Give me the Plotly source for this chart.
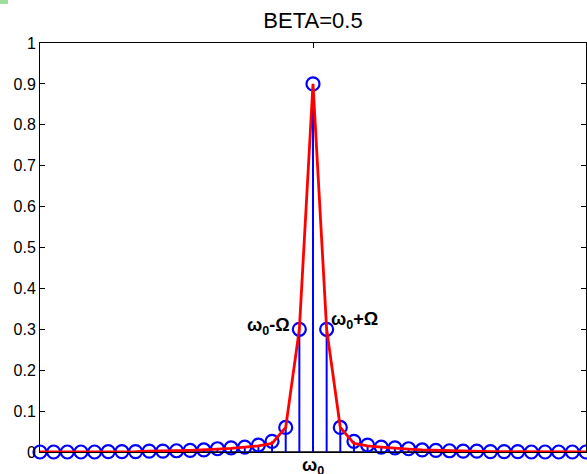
import plotly.graph_objects as go

# Harmonic index relative to carrier (omega_0)
n = list(range(-20, 21))

# Stem (marker) amplitudes, from n=0 to n=20 (mirrored)
amp_right = [0.9, 0.3, 0.06, 0.026, 0.017, 0.012, 0.010, 0.008, 0.005, 0.004,
             0.003, 0.002, 0.002, 0.001, 0.001, 0.001, 0.0, 0.0, 0.0, 0.0, 0.0]
amps = amp_right[:0:-1] + amp_right

# Red envelope curve values
env_right = [0.9, 0.3, 0.06, 0.021, 0.015, 0.012, 0.009, 0.007, 0.005, 0.004,
             0.003, 0.002, 0.002, 0.001, 0.001, 0.001, 0.0, 0.0, 0.0, 0.0, 0.0]
env = env_right[:0:-1] + env_right

y_ticks = [0, 0.1, 0.2, 0.3, 0.4, 0.5, 0.6, 0.7, 0.8, 0.9, 1]
y_tick_text = ["0", "0.1", "0.2", "0.3", "0.4", "0.5", "0.6", "0.7", "0.8", "0.9", "1"]

BLUE = "rgb(0,0,255)"
RED = "rgb(255,0,0)"
FONT = "Liberation Sans, Arial, sans-serif"

stem_x, stem_y = [], []
for xi, yi in zip(n, amps):
    stem_x += [xi, xi, None]
    stem_y += [0, yi, None]

fig = go.Figure()
# baseline
fig.add_trace(go.Scatter(x=[n[0], n[-1]], y=[0, 0], mode="lines",
                         line=dict(color="black", width=1.5),
                         hoverinfo="skip", showlegend=False, cliponaxis=False))
fig.add_trace(go.Scatter(x=stem_x, y=stem_y, mode="lines",
                         line=dict(color=BLUE, width=2),
                         hoverinfo="skip", showlegend=False, cliponaxis=False))
fig.add_trace(go.Scatter(x=n, y=amps, mode="markers",
                         marker=dict(symbol="circle-open", size=13, color=BLUE,
                                     line=dict(color=BLUE, width=2.2)),
                         showlegend=False, cliponaxis=False))
fig.add_trace(go.Scatter(x=n, y=env, mode="lines",
                         line=dict(color=RED, width=2.8),
                         showlegend=False, cliponaxis=False))

fig.add_annotation(x=-1, y=0.3, text="<b>ω<sub>0</sub>-Ω</b>", showarrow=False,
                   xanchor="right", yanchor="middle", xshift=-7, yshift=3,
                   font=dict(family=FONT, size=18, color="black"))
fig.add_annotation(x=1, y=0.3, text="<b>ω<sub>0</sub>+Ω</b>", showarrow=False,
                   xanchor="left", yanchor="middle", xshift=2, yshift=9,
                   font=dict(family=FONT, size=18, color="black"))
# carrier label under the axis
fig.add_annotation(x=0, y=0, text="<b>ω<sub>0</sub></b>", showarrow=False,
                   xanchor="center", yanchor="top", yshift=-1,
                   font=dict(family=FONT, size=18, color="black"))

fig.add_shape(type="rect", xref="paper", yref="paper", x0=-40/546, x1=-32/546,
              y0=1 + 39/409, y1=1 + 43/409, fillcolor="rgb(160,220,160)", line_width=0)

fig.update_layout(
    width=587, height=474,
    margin=dict(l=40, r=1, t=43, b=22, autoexpand=False),
    paper_bgcolor="white", plot_bgcolor="white",
    title=dict(text="BETA=0.5", x=313/587, xanchor="center", y=1 - 20/474, yanchor="middle",
               font=dict(family=FONT, size=22, color="black")),
    font=dict(family=FONT, size=16, color="black"),
    showlegend=False,
)
fig.update_xaxes(range=[-20, 20], tickvals=[0], ticktext=[""],
                 ticks="inside", ticklen=5, tickcolor="black", automargin=False,
                 showline=True, linecolor="black", linewidth=1, mirror="ticks",
                 showgrid=False, zeroline=False)
fig.update_yaxes(range=[0, 1], tickvals=y_ticks, ticktext=y_tick_text,
                 ticks="inside", ticklen=5, tickcolor="black", automargin=False,
                 showline=True, linecolor="black", linewidth=1, mirror="ticks",
                 showgrid=False, zeroline=False,
                 tickfont=dict(family=FONT, size=16, color="black"))

fig.write_html("out.html", config={"displayModeBar": False},
               post_script="document.body.style.margin='0';document.body.style.overflow='hidden';")
